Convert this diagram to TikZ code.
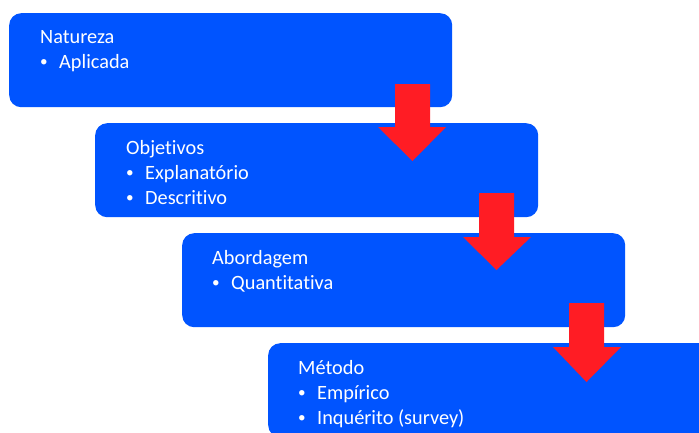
\documentclass[tikz,border=0pt]{standalone}
\usepackage{fontspec}
\setmainfont[RawFeature={-liga;-clig;-dlig}]{Carlito}
\definecolor{boxblue}{RGB}{0,84,255}
\definecolor{arrowred}{RGB}{255,28,36}
\begin{document}
\begin{tikzpicture}[x=1pt,y=-1pt,
  box/.style={fill=boxblue, draw=none, rounded corners=12pt, anchor=north west,
    minimum width=443pt, minimum height=94pt, inner sep=0pt},
  txt/.style={anchor=base west, inner sep=0pt, text=white,
    font=\fontsize{20.3pt}{25pt}\selectfont},
  blockarrow/.style={fill=arrowred, draw=none}]
\clip (0,0) rectangle (699,432);
\fill[white] (0,0) rectangle (699,432);
% boxes
\node[box] (b1) at (9,13) {};
\node[box] (b2) at (95,123) {};
\node[box] (b3) at (182,233) {};
\node[box, minimum width=470pt] (b4) at (268,343) {};
\newcommand{\bul}{\makebox[19pt][l]{\raisebox{1.2pt}{\scalebox{0.75}{\textbullet}}}}
% texts
\node[txt] (t1) at (40,43) {Natureza};
\node[txt] (t1a) at (40,68) {\bul Aplicada};
\node[txt] (t2) at (126,154) {Objetivos};
\node[txt] (t2a) at (126,179) {\bul Explanatório};
\node[txt] (t2b) at (126,204) {\bul Descritivo};
\node[txt] (t3) at (212,264) {Abordagem};
\node[txt] (t3a) at (212,289) {\bul Quantitativa};
\node[txt] (t4) at (298,374) {Método};
\node[txt] (t4a) at (298,399) {\bul Empírico};
\node[txt] (t4b) at (298,424) {\bul Inquérito (survey)};
% arrows
\fill[blockarrow] (395,84) -- (430,84) -- (430,127) -- (446,127) -- (412.5,161)
  -- (378,127) -- (395,127) -- cycle;
\fill[blockarrow] (479,193) -- (514,193) -- (514,237) -- (531,237) -- (496.5,270)
  -- (463,237) -- (479,237) -- cycle;
\fill[blockarrow] (569,303) -- (604,303) -- (604,347) -- (621,347) -- (586.5,382)
  -- (553,347) -- (569,347) -- cycle;
\end{tikzpicture}
\end{document}
